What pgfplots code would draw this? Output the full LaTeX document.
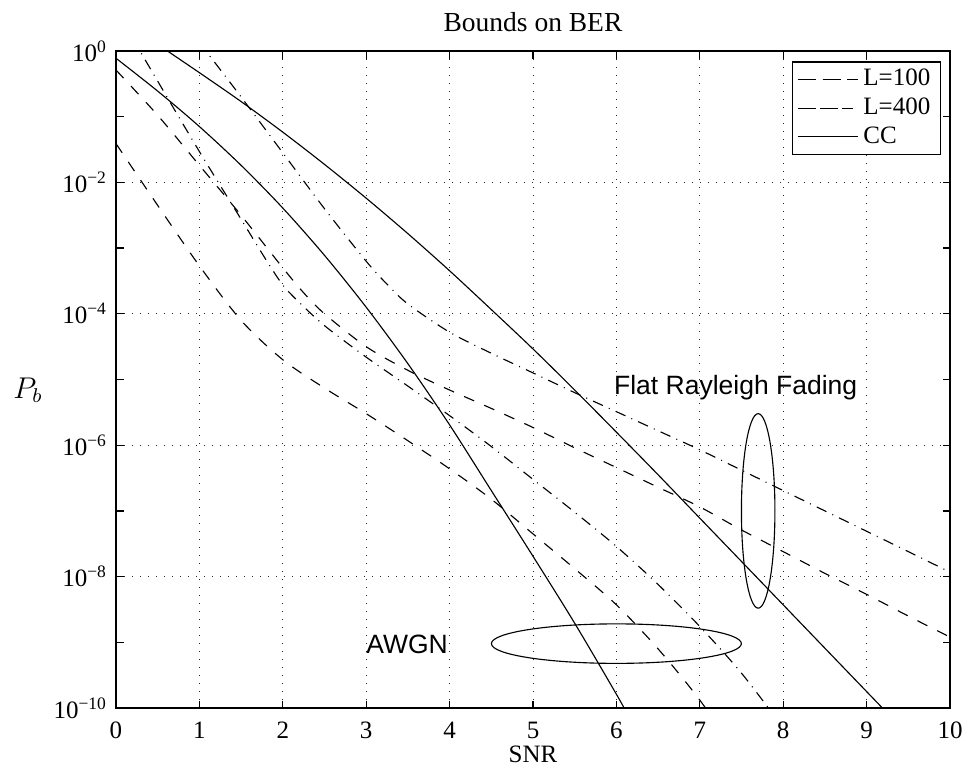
\documentclass[border=0pt]{standalone}
\usepackage{fontspec}
\setmainfont{Liberation Serif}
\newfontfamily\helv{Liberation Sans}
\usepackage{pgfplots}
\pgfplotsset{compat=1.18}
\pgfplotsset{
  dashdot/.style={black, line width=0.45pt, dash pattern=on 4.3pt off 2.6pt on 0.4pt off 2.6pt},
  dsh/.style={black, line width=0.45pt, dash pattern=on 4.4pt off 4.4pt},
  sld/.style={black, line width=0.45pt, solid},
}
\begin{document}
\begin{tikzpicture}
\useasboundingbox (-46.4pt,-22.8pt) rectangle (339.2pt,283.2pt);
\begin{axis}[
  at={(0,0)}, anchor=south west,
  scale only axis, width=333.6pt, height=262.8pt,
  xmin=0, xmax=10, ymin=1e-10, ymax=1,
  ymode=log,
  xtick={0,1,...,10},
  ytick={1e-10,1e-8,1e-6,1e-4,1e-2,1},
  yticklabels={10\textsuperscript{−10},10\textsuperscript{−8},10\textsuperscript{−6},10\textsuperscript{−4},10\textsuperscript{−2},10\textsuperscript{0}},
  minor ytick={1e-9,1e-7,1e-5,1e-3,1e-1},
  grid=major,
  major grid style={black!85, line width=0.4pt, dash pattern=on 0.4pt off 2.8pt},
  axis line style={line width=0.7pt},
  tick style={black, line width=0.5pt},
  major tick length=3pt, minor tick length=3pt,
  tick align=inside,
  xticklabel style={/pgf/number format/assume math mode=true, yshift=-2.2pt},
  title={Bounds on BER}, title style={at={(0.5,1)}, anchor=center, yshift=5.6pt, font=\fontsize{11}{13}\selectfont},
  xlabel={SNR}, xlabel style={at={(0.5,0)}, anchor=center, yshift=-18.4pt},
  legend style={at={(1,1)}, anchor=north east, xshift=-3.6pt, yshift=-4pt, draw=black, line width=0.6pt, fill=white, inner xsep=2pt, inner ysep=1pt, row sep=-0.7pt},
  legend cell align=left,
  legend image code/.code={\path (0pt,0pt) -- (24pt,0pt); \draw[#1] (3pt,0pt) -- (19pt,0pt);},
]
% Rayleigh L=100
\addplot[dashdot, smooth] table {
x y
1.0 1.35
1.5 2.00e-1
2.0 2.82e-2
2.5 3.98e-3
3.0 6.31e-4
3.25 2.82e-4
3.5 1.41e-4
4.0 5.25e-5
4.5 2.51e-5
5.0 1.26e-5
5.5 6.31e-6
6.0 3.24e-6
6.5 1.66e-6
7.0 8.51e-7
7.5 4.17e-7
8.0 2.04e-7
8.5 1.00e-7
9.0 4.90e-8
9.5 2.40e-8
10 1.17e-8
};
\addlegendentry{L=100}
% Rayleigh L=400
\addplot[dsh, smooth] table {
x y
0 5.13e-1
0.5 1.05e-1
1.0 1.82e-2
1.5 3.16e-3
2.0 5.01e-4
2.25 2.09e-4
2.5 1.00e-4
3.0 3.16e-5
3.5 1.38e-5
4.0 6.92e-6
4.5 3.63e-6
5.0 1.86e-6
5.5 9.12e-7
6.0 4.57e-7
6.5 2.29e-7
7.0 1.15e-7
7.5 5.13e-8
8.0 2.40e-8
8.5 1.12e-8
9.0 5.37e-9
9.5 2.51e-9
10 1.20e-9
};
\addlegendentry{L=400}
% Rayleigh CC
\addplot[sld, smooth] table {
x y
0.5 1.26
1.0 4.68e-1
1.5 1.70e-1
2.0 5.82e-2
2.5 1.88e-2
3.0 5.75e-3
3.5 1.66e-3
4.0 4.52e-4
4.5 1.16e-4
5.0 2.92e-5
5.5 6.92e-6
6.0 1.58e-6
6.5 3.55e-7
7.0 7.76e-8
7.5 1.70e-8
8.0 3.72e-9
8.5 8.13e-10
9.0 1.78e-10
9.5 3.89e-11
};
\addlegendentry{CC}
% AWGN L=100
\addplot[dashdot, smooth, forget plot] table {
x y
0.2 1.55
0.5 3.47e-1
1.0 2.95e-2
1.5 2.75e-3
1.8 6.61e-4
2.0 2.75e-4
2.2 1.48e-4
2.5 6.61e-5
3.0 2.19e-5
3.5 7.94e-6
4.0 2.82e-6
4.5 9.55e-7
5.0 3.02e-7
5.5 9.55e-8
6.0 2.88e-8
6.5 7.59e-9
7.0 1.74e-9
7.5 3.39e-10
8.0 5.01e-11
};
% AWGN L=400
\addplot[dsh, smooth, forget plot] table {
x y
0 3.89e-2
0.5 4.47e-3
1.0 5.37e-4
1.5 7.94e-5
2.0 2.00e-5
2.5 7.41e-6
3.0 3.02e-6
3.5 1.17e-6
4.0 4.37e-7
4.5 1.51e-7
5.0 4.47e-8
5.5 1.32e-8
6.0 3.72e-9
6.5 7.94e-10
7.0 1.32e-10
7.5 1.58e-11
};
% AWGN CC
\addplot[sld, smooth, forget plot] table {
x y
0 7.76e-1
0.5 2.45e-1
1.0 7.08e-2
1.5 1.82e-2
2.0 4.07e-3
2.5 7.76e-4
3.0 1.26e-4
3.5 1.74e-5
4.0 2.04e-6
4.5 2.04e-7
5.0 2.04e-8
5.5 1.95e-9
6.0 1.62e-10
6.2 5.62e-11
};
\draw[line width=0.45pt] (axis cs:7.7,1e-7) ellipse [x radius=6.7pt, y radius=38.9pt];
\draw[line width=0.45pt] (axis cs:6.0,9.55e-10) ellipse [x radius=50pt, y radius=7.9pt];
\node[font=\helv\fontsize{10.6}{12}\selectfont] at (axis cs:7.43,7.41e-6) {Flat Rayleigh Fading};
\node[font=\helv\fontsize{10.6}{12}\selectfont] at (axis cs:3.49,9.33e-10) {AWGN};
\end{axis}
\node at (-35.2pt,127.2pt) {\fontsize{12}{14}\selectfont $P_b$};
\end{tikzpicture}
\end{document}
